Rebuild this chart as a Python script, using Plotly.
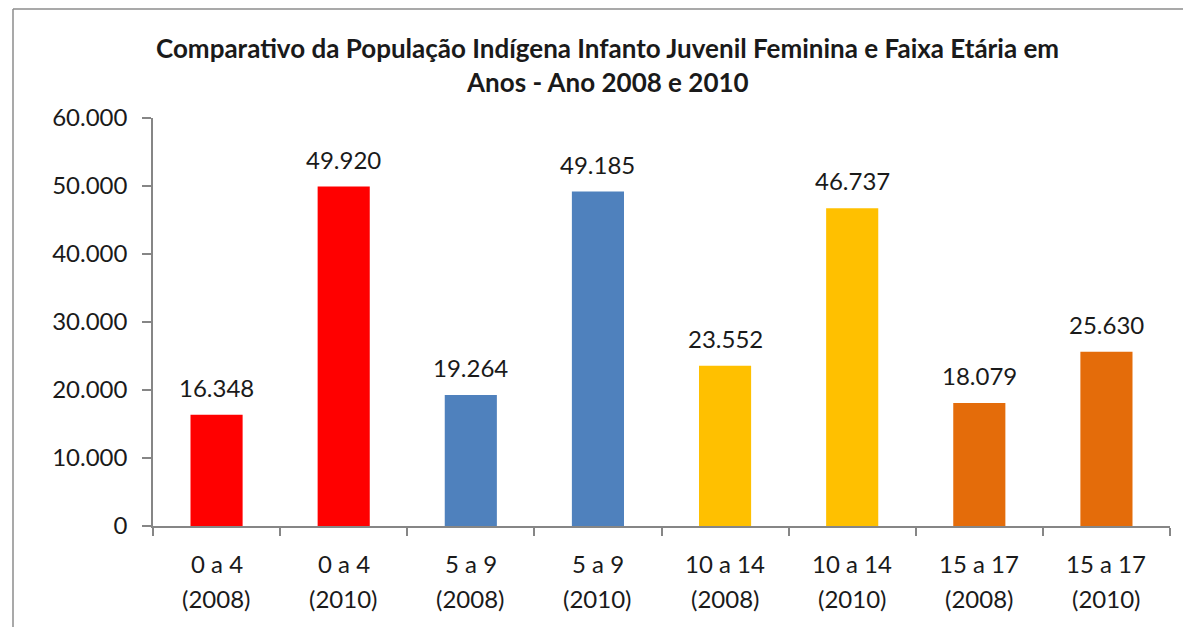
import plotly.graph_objects as go

age_groups = ["0 a 4", "0 a 4", "5 a 9", "5 a 9", "10 a 14", "10 a 14", "15 a 17", "15 a 17"]
years = ["(2008)", "(2010)", "(2008)", "(2010)", "(2008)", "(2010)", "(2008)", "(2010)"]
values = [16348, 49920, 19264, 49185, 23552, 46737, 18079, 25630]
bar_colors = ["#FF0000", "#FF0000", "#4F81BD", "#4F81BD",
              "#FFC000", "#FFC000", "#E46C0A", "#E46C0A"]
categories = [f"{a} {y}" for a, y in zip(age_groups, years)]

FONT = "Lato"
TXT = "#1a1a1a"
AX = "#868686"
OFF = 8  # page body offset

def fmt(v):
    return f"{v:,}".replace(",", ".")

W, H = 1191, 627
L, R, T, B = 153 - OFF, 21 + OFF, 118 - OFF, 101 + OFF
pw, ph = W - L - R, H - T - B

def px(x):
    return (x - OFF - L) / pw

def py(y):
    return (H - B - (y - OFF)) / ph

fig = go.Figure()
fig.add_trace(go.Bar(x=categories, y=values, marker=dict(color=bar_colors, line=dict(width=0)),
                     width=0.41, showlegend=False, hoverinfo="skip"))

for c, v in zip(categories, values):
    fig.add_annotation(x=c, y=v, xref="x", yref="y", text=fmt(v), showarrow=False,
                       yanchor="bottom", yshift=11, font=dict(family=FONT, size=24, color=TXT))

for c, a, y in zip(categories, age_groups, years):
    fig.add_annotation(x=c, y=py(563), xref="x", yref="paper", text=a, showarrow=False,
                       yanchor="middle", font=dict(family=FONT, size=24, color=TXT))
    fig.add_annotation(x=c, y=py(598), xref="x", yref="paper", text=y, showarrow=False,
                       yanchor="middle", font=dict(family=FONT, size=24, color=TXT))

fig.add_annotation(x=px(607), y=py(48), xref="paper", yref="paper", showarrow=False,
                   text="<b>Comparativo da População Indígena Infanto Juvenil Feminina e Faixa Etária em</b>",
                   font=dict(family=FONT, size=26, color=TXT), xanchor="center", yanchor="middle")
fig.add_annotation(x=px(607), y=py(82), xref="paper", yref="paper", showarrow=False,
                   text="<b>Anos - Ano 2008 e 2010</b>",
                   font=dict(family=FONT, size=26, color=TXT), xanchor="center", yanchor="middle")

# outer chart border (cropped at right and bottom)
fig.add_shape(type="line", xref="paper", yref="paper", x0=px(13), x1=px(13), y0=py(9), y1=py(660),
              line=dict(color="#8c8c8c", width=1.5))
fig.add_shape(type="line", xref="paper", yref="paper", x0=px(13), x1=px(1220), y0=py(9), y1=py(9),
              line=dict(color="#8c8c8c", width=1.5))

fig.update_layout(
    width=W, height=H,
    margin=dict(l=L, r=R, t=T, b=B, pad=0),
    paper_bgcolor="white", plot_bgcolor="white",
    separators=",.",
    font=dict(family=FONT, size=24, color=TXT),
    bargap=0.59,
)
fig.update_xaxes(
    type="category", tickvals=categories, ticktext=[""] * len(categories),
    showline=True, linecolor=AX, linewidth=1.5, ticks="outside", tickson="boundaries",
    ticklen=8, tickcolor=AX, tickwidth=1.5, showgrid=False, zeroline=False,
)
fig.update_yaxes(
    range=[0, 60000], tickvals=[0, 10000, 20000, 30000, 40000, 50000, 60000],
    tickformat=",d", showline=True, linecolor=AX, linewidth=1.5, ticks="outside",
    ticklen=9, tickcolor=AX, tickwidth=1.5, showgrid=False, zeroline=False,
    tickfont=dict(family=FONT, size=24, color=TXT), ticklabelstandoff=10,
)

fig.write_html("out.html")
